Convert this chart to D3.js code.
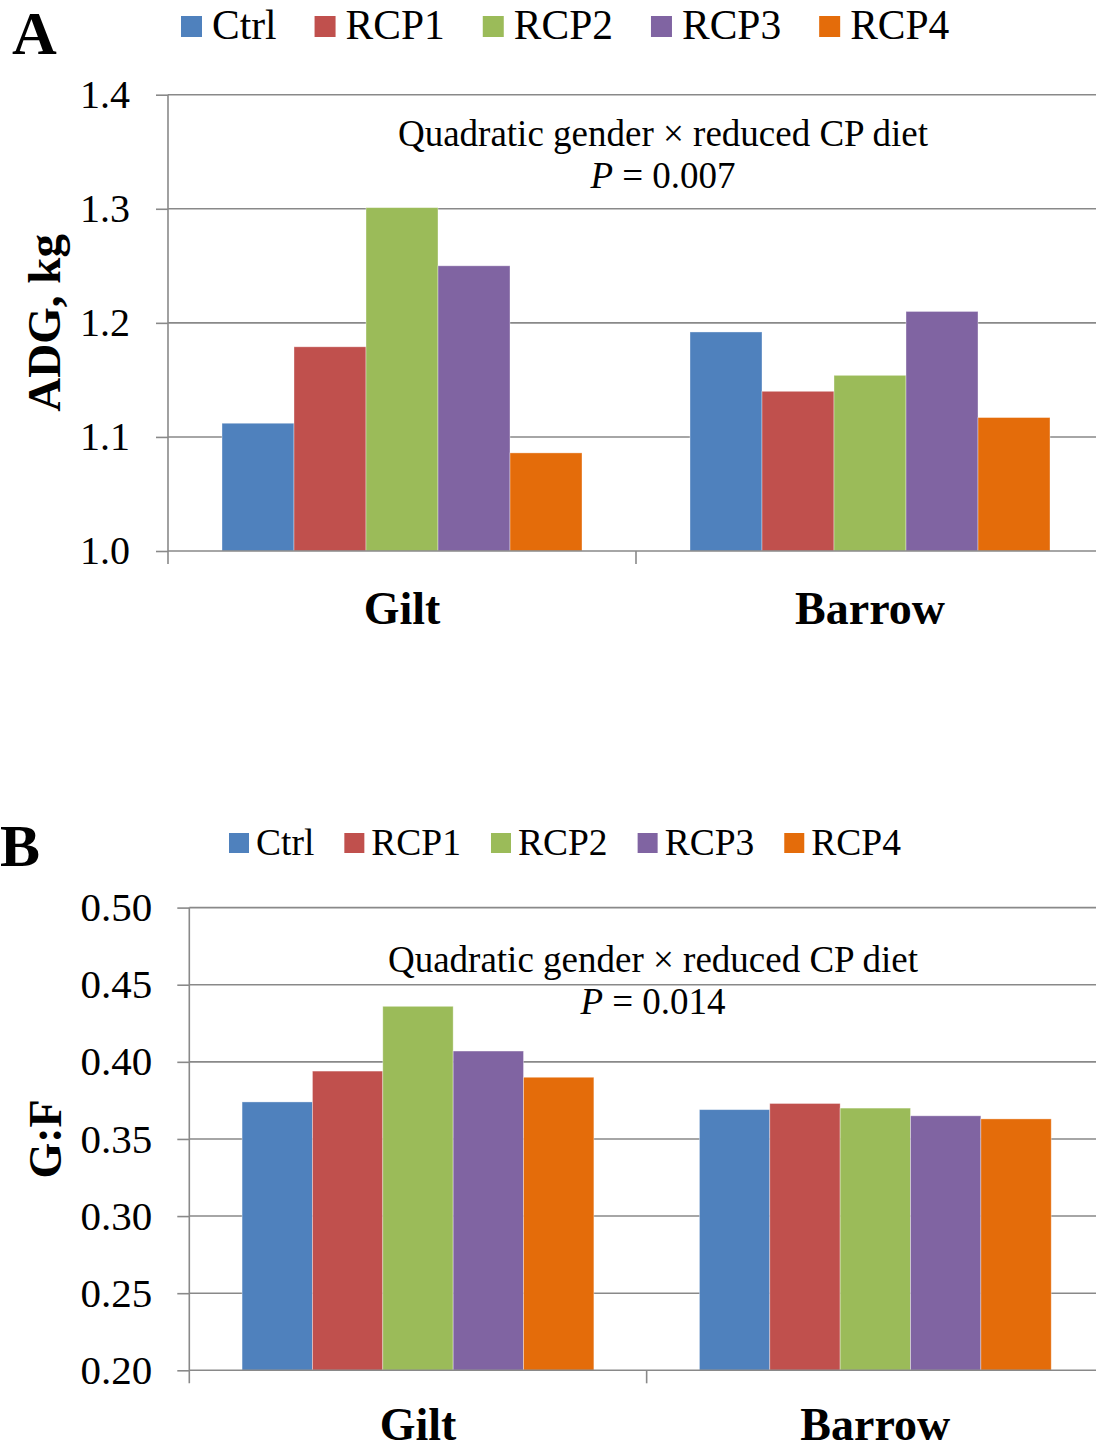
<!DOCTYPE html>
<html>
<head>
<meta charset="utf-8">
<script src="https://cdn.jsdelivr.net/npm/d3@7"></script>
<style>
  html, body { margin: 0; padding: 0; background: #fff; }
  svg { display: block; }
  text { font-family: "Liberation Serif", "Times New Roman", serif; fill: #000; }
</style>
</head>
<body>
<script>
// ---- data ----
const categories = ["Gilt", "Barrow"];
const series = ["Ctrl", "RCP1", "RCP2", "RCP3", "RCP4"];
const seriesColors = ["#4F81BD", "#C0504D", "#9BBB59", "#8064A2", "#E46C0A"];

const adgGilt   = [1.112, 1.179, 1.301, 1.250, 1.086];
const adgBarrow = [1.192, 1.140, 1.154, 1.210, 1.117];
const adgTicks  = [1.0, 1.1, 1.2, 1.3, 1.4];

const gfGilt   = [0.374, 0.394, 0.436, 0.407, 0.390];
const gfBarrow = [0.369, 0.373, 0.370, 0.365, 0.363];
const gfTicks  = [0.20, 0.25, 0.30, 0.35, 0.40, 0.45, 0.50];

const W = 1096, H = 1451;
const svg = d3.select("body").append("svg").attr("width", W).attr("height", H);

const GRID = "#898989";

function drawPanel(cfg) {
  const g = svg.append("g");
  const x0 = d3.scaleBand().domain(categories).range([cfg.left, cfg.right]).padding(0);
  const x1 = d3.scaleBand().domain(series).range([0, x0.bandwidth()]).paddingInner(0).paddingOuter(0.75);
  const y = d3.scaleLinear().domain([cfg.ticks[0], cfg.ticks[cfg.ticks.length - 1]]).range([cfg.bottom, cfg.top]);

  // gridlines
  g.append("g").selectAll("line").data(cfg.ticks.slice(1)).join("line")
    .attr("x1", cfg.left).attr("x2", cfg.right)
    .attr("y1", d => y(d)).attr("y2", d => y(d))
    .attr("stroke", GRID).attr("stroke-width", 1.6);

  // bars
  const rows = categories.map((c, i) => ({ cat: c, vals: cfg.values[i] }));
  const grp = g.append("g").selectAll("g").data(rows).join("g")
    .attr("transform", d => `translate(${x0(d.cat)},0)`);
  grp.selectAll("rect").data(d => d.vals.map((v, j) => ({ s: series[j], v, c: seriesColors[j] }))).join("rect")
    .attr("x", d => x1(d.s))
    .attr("width", x1.bandwidth())
    .attr("y", d => y(d.v))
    .attr("height", d => y(cfg.ticks[0]) - y(d.v))
    .attr("fill", d => d.c)
    .attr("stroke", "rgba(255,255,255,0.45)").attr("stroke-width", 0.8);

  // y axis
  const ya = d3.axisLeft(y).tickValues(cfg.ticks).tickFormat(d3.format(cfg.fmt))
    .tickSize(12).tickSizeOuter(0).tickPadding(cfg.pad);
  const yg = g.append("g").attr("transform", `translate(${cfg.left},0)`).call(ya);
  yg.select(".domain").remove();
  yg.selectAll(".tick line").attr("stroke", GRID).attr("stroke-width", 1.6);
  yg.selectAll(".tick text").attr("font-size", cfg.tickFont).attr("font-family", "Liberation Serif").attr("fill", "#000");
  g.append("line").attr("x1", cfg.left).attr("x2", cfg.left)
    .attr("y1", y(cfg.ticks[cfg.ticks.length - 1])).attr("y2", y(cfg.ticks[0]) + 13)
    .attr("stroke", GRID).attr("stroke-width", 1.6);

  // x axis baseline + boundary ticks
  g.append("line").attr("x1", cfg.left).attr("x2", cfg.right)
    .attr("y1", y(cfg.ticks[0])).attr("y2", y(cfg.ticks[0]))
    .attr("stroke", GRID).attr("stroke-width", 1.6);
  const bounds = categories.map(c => x0(c) + x0.bandwidth());
  g.append("g").selectAll("line").data(bounds).join("line")
    .attr("x1", d => d).attr("x2", d => d)
    .attr("y1", y(cfg.ticks[0])).attr("y2", y(cfg.ticks[0]) + 13)
    .attr("stroke", GRID).attr("stroke-width", 1.6);

  // category labels
  g.append("g").selectAll("text").data(categories).join("text")
    .attr("x", d => x0(d) + x0.bandwidth() / 2)
    .attr("y", cfg.catY)
    .attr("text-anchor", "middle")
    .attr("font-weight", "bold").attr("font-size", 46)
    .text(d => d);

  // y title
  g.append("text")
    .attr("transform", `translate(${cfg.titleX},${(cfg.top + cfg.bottom) / 2}) rotate(-90)`)
    .attr("text-anchor", "middle").attr("font-weight", "bold").attr("font-size", cfg.titleFont)
    .text(cfg.title);

  // panel letter
  g.append("text").attr("x", cfg.letterX).attr("y", cfg.letterY)
    .attr("font-weight", "bold").attr("font-size", cfg.letterFont).text(cfg.letter);

  // annotation
  const ann = g.append("text").attr("text-anchor", "middle").attr("font-size", 37);
  ann.append("tspan").attr("x", cfg.annX).attr("y", cfg.annY).text("Quadratic gender \u00D7 reduced CP diet");
  const l2 = ann.append("tspan").attr("x", cfg.annX).attr("y", cfg.annY + 42);
  l2.append("tspan").attr("font-style", "italic").text("P");
  l2.append("tspan").text(" = " + cfg.pval);

  // legend
  const lg = g.append("g");
  let cx = cfg.legX;
  series.forEach((s, i) => {
    lg.append("rect").attr("x", cx).attr("y", cfg.legY - cfg.sq - 2).attr("width", cfg.sq).attr("height", cfg.sq).attr("fill", seriesColors[i]);
    const t = lg.append("text").attr("x", cx + cfg.sq + cfg.legGap).attr("y", cfg.legY).attr("font-size", cfg.legFont).text(s);
    cx += cfg.sq + cfg.legGap + t.node().getComputedTextLength() + cfg.legSpace;
  });
}

drawPanel({
  letter: "A", letterX: 12, letterY: 54, letterFont: 62,
  left: 168, right: 1104, top: 94.7, bottom: 551,
  ticks: adgTicks, fmt: ".1f", pad: 26, tickFont: 40,
  values: [adgGilt, adgBarrow],
  catY: 624,
  title: "ADG, kg", titleX: 60, titleFont: 47,
  annX: 663, annY: 146, pval: "0.007",
  legX: 181, legY: 39, sq: 21, legGap: 10, legFont: 41.5, legSpace: 38
});

drawPanel({
  letter: "B", letterX: 0, letterY: 866, letterFont: 60,
  left: 189.3, right: 1104, top: 907.6, bottom: 1370.3,
  ticks: gfTicks, fmt: ".2f", pad: 25, tickFont: 41,
  values: [gfGilt, gfBarrow],
  catY: 1440,
  title: "G:F", titleX: 61, titleFont: 46,
  annX: 653, annY: 972, pval: "0.014",
  legX: 229, legY: 855, sq: 20, legGap: 7, legFont: 37.5, legSpace: 30
});
</script>
</body>
</html>
